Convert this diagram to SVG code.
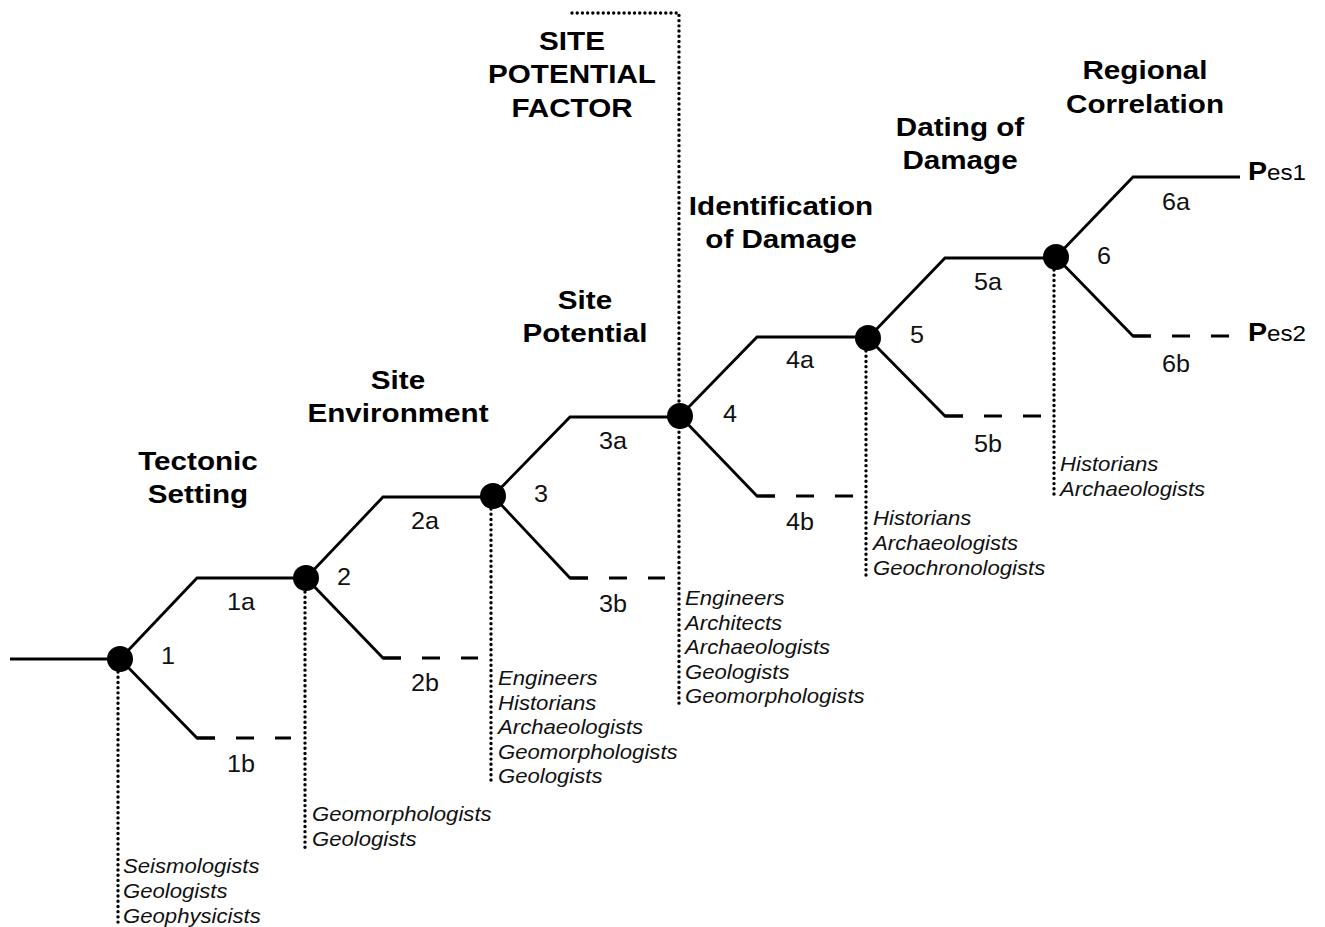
<svg xmlns="http://www.w3.org/2000/svg" width="1325" height="927" viewBox="0 0 1325 927">
<style>
.ln{fill:none;stroke:#000;stroke-width:2.8}
.ds{fill:none;stroke:#000;stroke-width:2.8;stroke-dasharray:18 21}
.dot{fill:none;stroke:#000;stroke-width:3.4;stroke-linecap:round;stroke-dasharray:0.01 5.2}
.nd{fill:#000}
.h{font-family:"Liberation Sans",Arial,sans-serif;font-weight:bold;font-size:26px;text-anchor:middle;fill:#000}
.n{font-family:"Liberation Sans",Arial,sans-serif;font-size:24px;text-anchor:middle;fill:#111}
.l{font-family:"Liberation Sans",Arial,sans-serif;font-style:italic;font-size:20.5px;fill:#111}
.pb{font-family:"Liberation Sans",Arial,sans-serif;font-weight:bold;font-size:26px;fill:#000}
.ps{font-family:"Liberation Sans",Arial,sans-serif;font-size:22px;fill:#000}
</style>
<rect width="1325" height="927" fill="#fff"/>
<g id="connectors">
  <g id="dotted">
    <path class="dot" d="M118 672V927"/>
    <path class="dot" d="M305 592V848"/>
    <path class="dot" d="M491 509V785"/>
    <path class="dot" d="M572 13H679V705"/>
    <path class="dot" d="M866 351V578"/>
    <path class="dot" d="M1054 270V495"/>
  </g>
  <path class="ln" d="M10 659H120"/>
  <path class="ln" d="M120 659L197 578H306"/>
  <path class="ln" d="M120 659L197 738H215"/>
  <path class="ds" d="M197 738H291"/>
  <path class="ln" d="M306 578L383 497H493"/>
  <path class="ln" d="M306 578L383 658H401"/>
  <path class="ds" d="M383 658H478"/>
  <path class="ln" d="M493 496L570 417H680"/>
  <path class="ln" d="M493 496L570 578H588"/>
  <path class="ds" d="M570 578H665"/>
  <path class="ln" d="M680 416L757 337H868"/>
  <path class="ln" d="M680 416L757 496H775"/>
  <path class="ds" d="M757 496H853"/>
  <path class="ln" d="M868 338L945 258H1056"/>
  <path class="ln" d="M868 338L945 416H963"/>
  <path class="ds" d="M945 416H1042"/>
  <path class="ln" d="M1056 257L1133 177H1240"/>
  <path class="ln" d="M1056 257L1133 336H1151"/>
  <path class="ds" d="M1133 336H1229"/>
</g>
<g id="node1">
  <circle class="nd" cx="120" cy="659" r="13"/>
  <text class="n" transform="translate(168 664) scale(1.05 1)">1</text>
  <text class="n" transform="translate(241 610) scale(1.05 1)">1a</text>
  <text class="n" transform="translate(241 772) scale(1.05 1)">1b</text>
  <text class="h" transform="translate(198 470) scale(1.14 1)"><tspan x="0">Tectonic</tspan><tspan x="0" dy="33">Setting</tspan></text>
  <text class="l" transform="translate(123 873) scale(1.08 1)"><tspan x="0">Seismologists</tspan><tspan x="0" dy="24.8">Geologists</tspan><tspan x="0" dy="24.8">Geophysicists</tspan></text>
</g>
<g id="node2">
  <circle class="nd" cx="306" cy="578" r="13"/>
  <text class="n" transform="translate(344 585) scale(1.05 1)">2</text>
  <text class="n" transform="translate(425 529) scale(1.05 1)">2a</text>
  <text class="n" transform="translate(425 691) scale(1.05 1)">2b</text>
  <text class="h" transform="translate(398 389) scale(1.14 1)"><tspan x="0">Site</tspan><tspan x="0" dy="33">Environment</tspan></text>
  <text class="l" transform="translate(312 821) scale(1.08 1)"><tspan x="0">Geomorphologists</tspan><tspan x="0" dy="24.8">Geologists</tspan></text>
</g>
<g id="node3">
  <circle class="nd" cx="493" cy="496" r="13"/>
  <text class="n" transform="translate(541 502) scale(1.05 1)">3</text>
  <text class="n" transform="translate(613 449) scale(1.05 1)">3a</text>
  <text class="n" transform="translate(613 612) scale(1.05 1)">3b</text>
  <text class="h" transform="translate(585 309) scale(1.14 1)"><tspan x="0">Site</tspan><tspan x="0" dy="33">Potential</tspan></text>
  <text class="l" transform="translate(498 685) scale(1.08 1)"><tspan x="0">Engineers</tspan><tspan x="0" dy="24.6">Historians</tspan><tspan x="0" dy="24.6">Archaeologists</tspan><tspan x="0" dy="24.6">Geomorphologists</tspan><tspan x="0" dy="24.6">Geologists</tspan></text>
</g>
<g id="node4">
  <circle class="nd" cx="680" cy="416" r="13"/>
  <text class="n" transform="translate(730 422) scale(1.05 1)">4</text>
  <text class="n" transform="translate(800 368) scale(1.05 1)">4a</text>
  <text class="n" transform="translate(800 530) scale(1.05 1)">4b</text>
  <text class="h" transform="translate(781 215) scale(1.14 1)"><tspan x="0">Identification</tspan><tspan x="0" dy="33">of Damage</tspan></text>
  <text class="l" transform="translate(685 605) scale(1.08 1)"><tspan x="0">Engineers</tspan><tspan x="0" dy="24.6">Architects</tspan><tspan x="0" dy="24.6">Archaeologists</tspan><tspan x="0" dy="24.6">Geologists</tspan><tspan x="0" dy="24.6">Geomorphologists</tspan></text>
</g>
<g id="site-potential-factor">
  <text class="h" transform="translate(572 50) scale(1.14 1)"><tspan x="0">SITE</tspan><tspan x="0" dy="33.5">POTENTIAL</tspan><tspan x="0" dy="33.5">FACTOR</tspan></text>
</g>
<g id="node5">
  <circle class="nd" cx="868" cy="338" r="13"/>
  <text class="n" transform="translate(917 343) scale(1.05 1)">5</text>
  <text class="n" transform="translate(988 290) scale(1.05 1)">5a</text>
  <text class="n" transform="translate(988 452) scale(1.05 1)">5b</text>
  <text class="h" transform="translate(960 136) scale(1.14 1)"><tspan x="0">Dating of</tspan><tspan x="0" dy="33">Damage</tspan></text>
  <text class="l" transform="translate(873 525) scale(1.08 1)"><tspan x="0">Historians</tspan><tspan x="0" dy="24.8">Archaeologists</tspan><tspan x="0" dy="24.8">Geochronologists</tspan></text>
</g>
<g id="node6">
  <circle class="nd" cx="1056" cy="257" r="13"/>
  <text class="n" transform="translate(1104 264) scale(1.05 1)">6</text>
  <text class="n" transform="translate(1176 210) scale(1.05 1)">6a</text>
  <text class="n" transform="translate(1176 372) scale(1.05 1)">6b</text>
  <text class="h" transform="translate(1145 79) scale(1.14 1)"><tspan x="0">Regional</tspan><tspan x="0" dy="34">Correlation</tspan></text>
  <text class="l" transform="translate(1060 471) scale(1.08 1)"><tspan x="0">Historians</tspan><tspan x="0" dy="24.8">Archaeologists</tspan></text>
</g>
<g id="pes1">
  <text transform="translate(1248 180) scale(1.1 1)"><tspan class="pb">P</tspan><tspan class="ps">es1</tspan></text>
</g>
<g id="pes2">
  <text transform="translate(1248 341) scale(1.1 1)"><tspan class="pb">P</tspan><tspan class="ps">es2</tspan></text>
</g>
</svg>
